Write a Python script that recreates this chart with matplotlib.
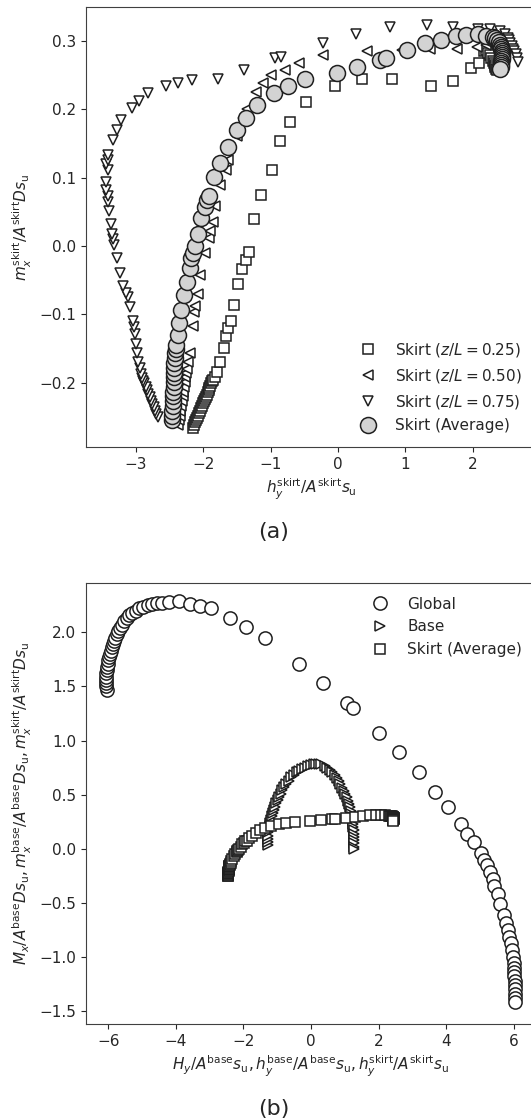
import numpy as np
import matplotlib
matplotlib.use('Agg')
import matplotlib.pyplot as plt

plt.rcParams['font.family'] = 'DejaVu Sans'
plt.rcParams['font.size'] = 11
plt.rcParams['text.color'] = '0.15'
plt.rcParams['axes.labelcolor'] = '0.15'
plt.rcParams['xtick.color'] = '0.15'
plt.rcParams['ytick.color'] = '0.15'
plt.rcParams['axes.edgecolor'] = '0.25'

# ---- (a) skirt, z/L = 0.25 ----
sq25_x = [-2.16, -2.14, -2.12, -2.11, -2.09, -2.08, -2.06, -2.05, -2.03, -2.02, -2.00, -1.99,
          -1.97, -1.96, -1.95, -1.93, -1.92, -1.91, -1.90, -1.88, -1.87, -1.86,
          -1.83, -1.80, -1.76, -1.70, -1.66, -1.63, -1.59, -1.55, -1.48, -1.42, -1.37, -1.32,
          -1.25, -1.14, -0.98, -0.86, -0.72, -0.48, -0.04, 0.36, 0.81, 1.38, 1.71, 1.98,
          2.10, 2.17, 2.20, 2.23, 2.26, 2.28, 2.30, 2.32, 2.33, 2.34, 2.35, 2.36]
sq25_y = [-0.266, -0.262, -0.258, -0.255, -0.251, -0.248, -0.244, -0.241, -0.237, -0.234, -0.230, -0.227,
          -0.224, -0.221, -0.218, -0.214, -0.211, -0.208, -0.205, -0.201, -0.198, -0.196,
          -0.192, -0.184, -0.169, -0.149, -0.132, -0.120, -0.110, -0.086, -0.056, -0.034, -0.021, -0.009,
          0.040, 0.075, 0.112, 0.154, 0.181, 0.211, 0.234, 0.244, 0.245, 0.234, 0.242, 0.260,
          0.268, 0.285, 0.287, 0.283, 0.279, 0.275, 0.271, 0.268, 0.265, 0.262, 0.259, 0.257]

# ---- (a) skirt, z/L = 0.50 ----
tl50_x = [-2.37, -2.36, -2.35, -2.34, -2.33, -2.32, -2.31, -2.30, -2.29, -2.28, -2.27, -2.26,
          -2.25, -2.23, -2.20, -2.15, -2.14, -2.13, -2.08, -2.05, -1.98, -1.92, -1.90, -1.86,
          -1.83, -1.76, -1.66, -1.63, -1.50, -1.41, -1.35, -1.22, -1.12, -1.00, -0.78, -0.58,
          -0.22, 0.43, 0.95, 1.37, 1.77, 2.06, 2.20, 2.28, 2.34, 2.40, 2.45, 2.50]
tl50_y = [-0.262, -0.255, -0.248, -0.241, -0.234, -0.227, -0.220, -0.213, -0.206, -0.199, -0.192, -0.186,
          -0.180, -0.170, -0.157, -0.117, -0.097, -0.087, -0.070, -0.042, -0.010, 0.012, 0.022, 0.035,
          0.059, 0.089, 0.111, 0.126, 0.161, 0.188, 0.201, 0.225, 0.239, 0.251, 0.258, 0.268,
          0.280, 0.286, 0.287, 0.288, 0.288, 0.291, 0.295, 0.296, 0.297, 0.297, 0.296, 0.294]

# ---- (a) skirt, z/L = 0.75 ----
td75_x = [-2.67, -2.70, -2.72, -2.74, -2.76, -2.78, -2.80, -2.82, -2.84, -2.86, -2.88, -2.89,
          -2.91, -2.93, -2.94, -2.97, -2.99, -3.00, -3.02, -3.03, -3.04, -3.09, -3.12,
          -3.15, -3.19, -3.24, -3.29, -3.33, -3.34, -3.36, -3.38, -3.40, -3.41, -3.42, -3.44,
          -3.45, -3.42, -3.44, -3.42, -3.41, -3.34, -3.29, -3.23, -3.06, -2.96, -2.83, -2.56,
          -2.37, -2.17, -1.78, -1.40, -0.94, -0.84, -0.22, 0.27, 0.78, 1.32, 1.71, 2.08,
          2.26, 2.41, 2.48, 2.52, 2.54, 2.56, 2.58, 2.60, 2.62, 2.64, 2.66, 2.68]
td75_y = [-0.250, -0.246, -0.241, -0.236, -0.231, -0.226, -0.221, -0.216, -0.211, -0.206, -0.201, -0.197,
          -0.193, -0.187, -0.179, -0.170, -0.157, -0.143, -0.128, -0.119, -0.109, -0.089, -0.074,
          -0.069, -0.059, -0.040, -0.017, 0.002, 0.010, 0.017, 0.032, 0.052, 0.064, 0.074, 0.082,
          0.094, 0.111, 0.120, 0.126, 0.134, 0.155, 0.170, 0.185, 0.202, 0.213, 0.224, 0.234,
          0.239, 0.243, 0.245, 0.257, 0.275, 0.277, 0.297, 0.311, 0.320, 0.323, 0.321, 0.318,
          0.318, 0.315, 0.311, 0.305, 0.301, 0.297, 0.293, 0.289, 0.285, 0.281, 0.276, 0.270]

# ---- skirt average (used in both panels) ----
avg_x = [-2.46, -2.46, -2.46, -2.45, -2.45, -2.45, -2.45, -2.44, -2.44, -2.44, -2.43, -2.43,
         -2.43, -2.42, -2.42, -2.41, -2.41, -2.38, -2.36, -2.33, -2.29, -2.25, -2.20, -2.18,
         -2.15, -2.13, -2.08, -2.03, -1.98, -1.95, -1.91, -1.84, -1.75, -1.64, -1.50, -1.36,
         -1.20, -0.95, -0.74, -0.49, -0.02, 0.29, 0.62, 0.72, 1.03, 1.29, 1.53, 1.75,
         1.91, 2.08, 2.20, 2.30, 2.34, 2.37, 2.39, 2.41, 2.42, 2.43, 2.44, 2.44,
         2.44, 2.44, 2.44, 2.43, 2.43, 2.42, 2.42, 2.41]
avg_y = [-0.255, -0.248, -0.241, -0.234, -0.227, -0.220, -0.213, -0.206, -0.199, -0.192, -0.185, -0.178,
         -0.171, -0.164, -0.157, -0.150, -0.145, -0.130, -0.112, -0.093, -0.071, -0.053, -0.032, -0.017,
         -0.010, 0.000, 0.018, 0.041, 0.057, 0.067, 0.073, 0.101, 0.121, 0.145, 0.170, 0.188,
         0.207, 0.224, 0.234, 0.244, 0.254, 0.262, 0.273, 0.276, 0.287, 0.297, 0.302, 0.307,
         0.309, 0.310, 0.308, 0.306, 0.304, 0.301, 0.298, 0.295, 0.292, 0.289, 0.286, 0.283,
         0.280, 0.277, 0.274, 0.271, 0.268, 0.265, 0.262, 0.259]

# ---- (b) global ----
glob_x = [-6.05, -6.06, -6.07, -6.07, -6.07, -6.06, -6.05, -6.04, -6.02, -6.00, -5.98, -5.96,
          -5.93, -5.90, -5.87, -5.83, -5.79, -5.75, -5.70, -5.65, -5.59, -5.53, -5.46, -5.38,
          -5.29, -5.19, -5.08, -4.96, -4.84, -4.70, -4.55, -4.40, -4.20, -3.92, -3.58, -3.30,
          -2.95, -2.39, -1.92, -1.36, -0.36, 0.36, 1.06, 1.23, 2.01, 2.60, 3.19, 3.67,
          4.04, 4.43, 4.62, 4.82, 5.02, 5.12, 5.22, 5.30, 5.37, 5.42, 5.52, 5.60,
          5.70, 5.77, 5.82, 5.87, 5.92, 5.94, 5.97, 6.00, 6.01, 6.02, 6.02, 6.03,
          6.03, 6.03, 6.04, 6.04, 6.04]
glob_y = [1.47, 1.50, 1.53, 1.56, 1.59, 1.62, 1.65, 1.68, 1.71, 1.74, 1.77, 1.80,
          1.83, 1.86, 1.89, 1.92, 1.95, 1.98, 2.01, 2.04, 2.07, 2.10, 2.13, 2.16,
          2.18, 2.20, 2.22, 2.235, 2.25, 2.26, 2.27, 2.275, 2.28, 2.285, 2.265, 2.245,
          2.225, 2.135, 2.047, 1.947, 1.703, 1.528, 1.343, 1.296, 1.070, 0.895, 0.707, 0.525,
          0.388, 0.23, 0.14, 0.06, -0.044, -0.101, -0.154, -0.217, -0.279, -0.342, -0.42, -0.514,
          -0.608, -0.687, -0.749, -0.812, -0.874, -0.937, -1.00, -1.06, -1.10, -1.14, -1.18, -1.22,
          -1.26, -1.30, -1.34, -1.38, -1.42]

# ---- (b) base ----
base_x = [-1.27, -1.27, -1.27, -1.27, -1.26, -1.25, -1.23, -1.21, -1.19, -1.16, -1.13, -1.10,
          -1.07, -1.03, -0.99, -0.95, -0.90, -0.85, -0.79, -0.73, -0.66, -0.59, -0.51, -0.43,
          -0.35, -0.27, -0.18, -0.09, 0.00, 0.08, 0.16, 0.23, 0.30, 0.40, 0.48, 0.56,
          0.63, 0.70, 0.76, 0.82, 0.87, 0.92, 0.97, 1.01, 1.05, 1.08, 1.11, 1.14,
          1.17, 1.19, 1.21, 1.23, 1.24, 1.25, 1.26, 1.26, 1.27, 1.27, 1.27, 1.28, 1.27]
base_y = [0.03, 0.06, 0.09, 0.12, 0.15, 0.18, 0.21, 0.24, 0.27, 0.30, 0.33, 0.36,
          0.39, 0.42, 0.45, 0.48, 0.51, 0.54, 0.57, 0.60, 0.63, 0.66, 0.685, 0.705,
          0.72, 0.735, 0.75, 0.765, 0.775, 0.78, 0.782, 0.78, 0.78, 0.765, 0.75, 0.73,
          0.705, 0.68, 0.655, 0.625, 0.595, 0.565, 0.535, 0.505, 0.475, 0.445, 0.415, 0.385,
          0.35, 0.32, 0.29, 0.26, 0.23, 0.20, 0.17, 0.14, 0.11, 0.08, 0.05, 0.02, 0.00]

fig = plt.figure(figsize=(5.31, 11.2), dpi=100)
ax1 = fig.add_axes([0.162, 0.6009, 0.847, 0.3929])
ax2 = fig.add_axes([0.162, 0.0857, 0.847, 0.3938])

ec = '0.12'
ax1.plot(sq25_x, sq25_y, 's', ms=7, mfc='white', mec=ec, mew=1.1, label=r'Skirt ($z/L = 0.25$)')
ax1.plot(tl50_x, tl50_y, '<', ms=7.5, mfc='white', mec=ec, mew=1.1, label=r'Skirt ($z/L = 0.50$)')
ax1.plot(td75_x, td75_y, 'v', ms=7.5, mfc='white', mec=ec, mew=1.1, label=r'Skirt ($z/L = 0.75$)')
ax1.plot(avg_x, avg_y, 'o', ms=11.5, mfc='lightgray', mec=ec, mew=1.1, label='Skirt (Average)')
ax1.set_xlim(-3.744, 2.94)
ax1.set_ylim(-0.294, 0.350)
ax1.set_xticks([-3, -2, -1, 0, 1, 2])
ax1.set_yticks([-0.2, -0.1, 0.0, 0.1, 0.2, 0.3])
ax1.set_xlabel(r'$h_y^{\mathrm{skirt}}/A^{\mathrm{skirt}}s_{\mathrm{u}}$')
ax1.set_ylabel(r'$m_x^{\mathrm{skirt}}/A^{\mathrm{skirt}}Ds_{\mathrm{u}}$')
ax1.legend(loc='lower right', frameon=False, numpoints=1)

ax2.plot(glob_x, glob_y, 'o', ms=9.5, mfc='white', mec=ec, mew=1.1, label='Global')
ax2.plot(base_x, base_y, '>', ms=7, mfc='white', mec=ec, mew=1.1, label='Base')
ax2.plot(avg_x, avg_y, 's', ms=6.5, mfc='white', mec=ec, mew=1.1, label='Skirt (Average)')
ax2.set_xlim(-6.66, 6.65)
ax2.set_ylim(-1.62, 2.456)
ax2.set_xticks([-6, -4, -2, 0, 2, 4, 6])
ax2.set_yticks([-1.5, -1.0, -0.5, 0.0, 0.5, 1.0, 1.5, 2.0])
ax2.set_xlabel(r'$H_y/A^{\mathrm{base}}s_{\mathrm{u}}, h_y^{\mathrm{base}}/A^{\mathrm{base}}s_{\mathrm{u}}, '
               r'h_y^{\mathrm{skirt}}/A^{\mathrm{skirt}}s_{\mathrm{u}}$')
ax2.set_ylabel(r'$M_x/A^{\mathrm{base}}Ds_{\mathrm{u}}, m_x^{\mathrm{base}}/A^{\mathrm{base}}Ds_{\mathrm{u}}, '
               r'm_x^{\mathrm{skirt}}/A^{\mathrm{skirt}}Ds_{\mathrm{u}}$')
ax2.legend(loc='upper right', frameon=False, numpoints=1)

fig.text(0.515, 1 - 532 / 1120, '(a)', ha='center', va='center', fontsize=16)
fig.text(0.515, 1 - 1109 / 1120, '(b)', ha='center', va='center', fontsize=16)

fig.savefig('out.png', dpi=100)
